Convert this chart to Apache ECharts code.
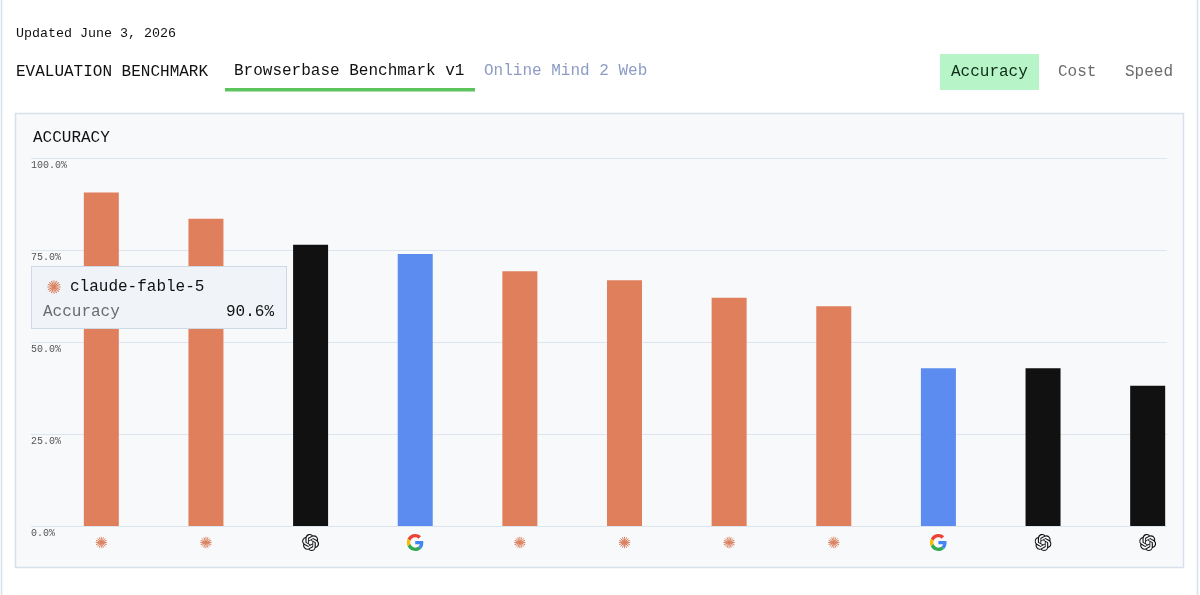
<!DOCTYPE html>
<html>
<head>
<meta charset="utf-8">
<style>html,body{margin:0;padding:0;background:#fff}#c{width:1200px;height:595px}</style>
<script src="https://cdn.jsdelivr.net/npm/echarts@6/dist/echarts.min.js"></script>
</head>
<body>
<div id="c"></div>
<script>
const vendors = ['anthropic','anthropic','openai','google','anthropic','anthropic','anthropic','anthropic','google','openai','openai'];
const accuracy = [90.6,83.5,76.4,73.9,69.2,66.8,62.0,59.7,42.9,42.9,38.1];
const yTicks = [0,25,50,75,100];
const tipModel = 'claude-fable-5';
const tipMetric = 'Accuracy';
const tipValue = '90.6%';
const tabs = ['Browserbase Benchmark v1','Online Mind 2 Web'];
const metrics = ['Accuracy','Cost','Speed'];

const barColors = {anthropic:'#e07f5c',openai:'#111111',google:'#5c8cef'};
const FONT = "'Liberation Mono', monospace";

let spokes = '';
for (let a = 0; a < 180; a += 22.5) {
  spokes += `<line x1="12" y1="4.5" x2="12" y2="19.5" transform="rotate(${a} 12 12)"/>`;
}
const anthropicSvg = `<svg xmlns="http://www.w3.org/2000/svg" width="48" height="48" viewBox="0 0 24 24"><g stroke="#d9805f" stroke-width="1.3" stroke-linecap="round">${spokes}</g></svg>`;
const openaiSvg = `<svg xmlns="http://www.w3.org/2000/svg" width="48" height="48" viewBox="0 0 24 24"><path fill="#111" d="M22.2819 9.8211a5.9847 5.9847 0 0 0-.5157-4.9108 6.0462 6.0462 0 0 0-6.5098-2.9A6.0651 6.0651 0 0 0 4.9807 4.1818a5.9847 5.9847 0 0 0-3.9977 2.9 6.0462 6.0462 0 0 0 .7427 7.0966 5.98 5.98 0 0 0 .511 4.9107 6.051 6.051 0 0 0 6.5146 2.9001A5.9847 5.9847 0 0 0 13.2599 24a6.0557 6.0557 0 0 0 5.7718-4.2058 5.9894 5.9894 0 0 0 3.9977-2.9001 6.0557 6.0557 0 0 0-.7475-7.0729zm-9.022 12.6081a4.4755 4.4755 0 0 1-2.8764-1.0408l.1419-.0804 4.7783-2.7582a.7948.7948 0 0 0 .3927-.6813v-6.7369l2.02 1.1686a.071.071 0 0 1 .038.052v5.5826a4.504 4.504 0 0 1-4.4945 4.4944zm-9.6607-4.1254a4.4708 4.4708 0 0 1-.5346-3.0137l.142.0852 4.783 2.7582a.7712.7712 0 0 0 .7806 0l5.8428-3.3685v2.3324a.0804.0804 0 0 1-.0332.0615L9.74 19.9502a4.4992 4.4992 0 0 1-6.1408-1.6464zM2.3408 7.8956a4.485 4.485 0 0 1 2.3655-1.9728V11.6a.7664.7664 0 0 0 .3879.6765l5.8144 3.3543-2.0201 1.1685a.0757.0757 0 0 1-.071 0l-4.8303-2.7865A4.504 4.504 0 0 1 2.3408 7.872zm16.5963 3.8558L13.1038 8.364 15.1192 7.2a.0757.0757 0 0 1 .071 0l4.8303 2.7913a4.4944 4.4944 0 0 1-.6765 8.1042v-5.6772a.79.79 0 0 0-.407-.667zm2.0107-3.0231l-.142-.0852-4.7735-2.7818a.7759.7759 0 0 0-.7854 0L9.409 9.2297V6.8974a.0662.0662 0 0 1 .0284-.0615l4.8303-2.7866a4.4992 4.4992 0 0 1 6.6802 4.66zM8.3065 12.863l-2.02-1.1638a.0804.0804 0 0 1-.038-.0567V6.0742a4.4992 4.4992 0 0 1 7.3757-3.4537l-.142.0805L8.704 5.459a.7948.7948 0 0 0-.3927.6813zm1.0976-2.3654l2.602-1.4998 2.6069 1.4998v2.9994l-2.5974 1.4997-2.6067-1.4997Z"/></svg>`;
const googleSvg = `<svg xmlns="http://www.w3.org/2000/svg" width="48" height="48" viewBox="0 0 48 48"><path fill="#EA4335" d="M24 9.5c3.54 0 6.71 1.22 9.21 3.6l6.85-6.85C35.9 2.38 30.47 0 24 0 14.62 0 6.51 5.38 2.56 13.22l7.98 6.19C12.43 13.72 17.74 9.5 24 9.5z"/><path fill="#4285F4" d="M46.98 24.55c0-1.57-.15-3.09-.38-4.55H24v9.02h12.94c-.58 2.96-2.26 5.48-4.78 7.18l7.73 6c4.51-4.18 7.09-10.36 7.09-17.65z"/><path fill="#FBBC05" d="M10.53 28.59c-.48-1.45-.76-2.99-.76-4.59s.27-3.14.76-4.59l-7.98-6.19C.92 16.46 0 20.12 0 24c0 3.88.92 7.54 2.56 10.78l7.97-6.19z"/><path fill="#34A853" d="M24 48c6.48 0 11.93-2.13 16.02-5.81l-7.73-6c-2.15 1.45-4.92 2.3-8.3 2.3-6.26 0-11.57-4.22-13.47-9.91l-7.98 6.19C6.51 42.62 14.62 48 24 48z"/></svg>`;
const uri = s => 'data:image/svg+xml;charset=utf-8,' + encodeURIComponent(s);

const chart = echarts.init(document.getElementById('c'));

function txt(x, y, text, color, size, align) {
  return {type:'text', z:-5, silent:true, x, y,
    style:{text, fill:color, font:`${size}px ${FONT}`, align:align||'left', verticalAlign:'middle'}};
}

const graphic = [
  {type:'line', z:-10, silent:true, shape:{x1:1.5,y1:0,x2:1.5,y2:595}, style:{stroke:'#d7e0ee',lineWidth:1.5}},
  {type:'line', z:-10, silent:true, shape:{x1:1197.5,y1:0,x2:1197.5,y2:595}, style:{stroke:'#d7e0ee',lineWidth:1.5}},
  {type:'rect', z:-10, silent:true, shape:{x:15.5,y:113.5,width:1168,height:454}, style:{fill:'#f8f9fb',stroke:'#d8e0ea',lineWidth:1.5}},
  {type:'rect', z:-8, silent:true, shape:{x:225,y:88,width:250,height:3.5}, style:{fill:'#5cc45c'}},
  {type:'rect', z:-8, silent:true, shape:{x:940,y:54,width:99,height:36}, style:{fill:'#b7f5c9'}},
  txt(16,33.5,'Updated June 3, 2026','#111',13.33),
  txt(16,72,'EVALUATION BENCHMARK','#111',16),
  txt(234,70.5,tabs[0],'#111',16),
  txt(484,70.5,tabs[1],'#8c9cc4',16),
  txt(951,72,metrics[0],'#0d2b16',16),
  txt(1058,72,metrics[1],'#6b6b6b',16),
  txt(1125,72,metrics[2],'#6b6b6b',16),
  txt(33,138,'ACCURACY','#111',16)
];

chart.setOption({
  animation:false,
  graphic,
  grid:[
    {left:31, width:1136, top:158, height:368},
    {left:49, width:1152.8, top:158, height:368}
  ],
  xAxis:[
    {gridIndex:0, type:'category', data:vendors, show:false},
    {gridIndex:1, type:'category', data:vendors,
      axisLine:{show:false}, axisTick:{show:false},
      axisLabel:{interval:0, margin:8,
        formatter:v => `{${v}|}`,
        rich:{
          anthropic:{width:17,height:17,backgroundColor:{image:uri(anthropicSvg)}},
          openai:{width:17,height:17,backgroundColor:{image:uri(openaiSvg)}},
          google:{width:17,height:17,backgroundColor:{image:uri(googleSvg)}}
        }}}
  ],
  yAxis:[
    {gridIndex:0, type:'value', min:yTicks[0], max:yTicks[yTicks.length-1], interval:yTicks[1]-yTicks[0],
      axisLine:{show:false}, axisTick:{show:false},
      splitLine:{lineStyle:{color:'#dde6f0',width:1}},
      axisLabel:{inside:true, margin:0, align:'left', verticalAlign:'top', padding:[2,0,0,0],
        color:'#555', fontFamily:FONT, fontSize:10, formatter:v => v.toFixed(1)+'%'}},
    {gridIndex:1, type:'value', min:yTicks[0], max:yTicks[yTicks.length-1], show:false, splitLine:{show:false}}
  ],
  tooltip:{
    show:true, trigger:'item', triggerOn:'none', alwaysShowContent:true, transitionDuration:0,
    position:[31,266], padding:0, borderWidth:0, backgroundColor:'transparent',
    extraCssText:'box-shadow:none;border-radius:0;',
    formatter:() => `<div style="box-sizing:border-box;width:256px;height:63px;background:#f0f4f9;border:1px solid #cfd9e6;font-family:${FONT};position:relative;">
      <img src="${uri(anthropicSvg)}" style="position:absolute;left:12px;top:10px;width:20px;height:20px">
      <span style="position:absolute;left:38px;top:10px;font-size:16px;line-height:20px;color:#111">${tipModel}</span>
      <span style="position:absolute;left:11px;top:35px;font-size:16px;line-height:20px;color:#6b6b6b">${tipMetric}</span>
      <span style="position:absolute;right:12px;top:35px;font-size:16px;line-height:20px;color:#111">${tipValue}</span>
    </div>`
  },
  series:[{
    type:'bar', xAxisIndex:1, yAxisIndex:1, barWidth:35,
    data:accuracy.map((v,i)=>({value:v, itemStyle:{color:barColors[vendors[i]]}}))
  }]
});
chart.dispatchAction({type:'showTip', seriesIndex:0, dataIndex:0});
</script>
</body>
</html>
